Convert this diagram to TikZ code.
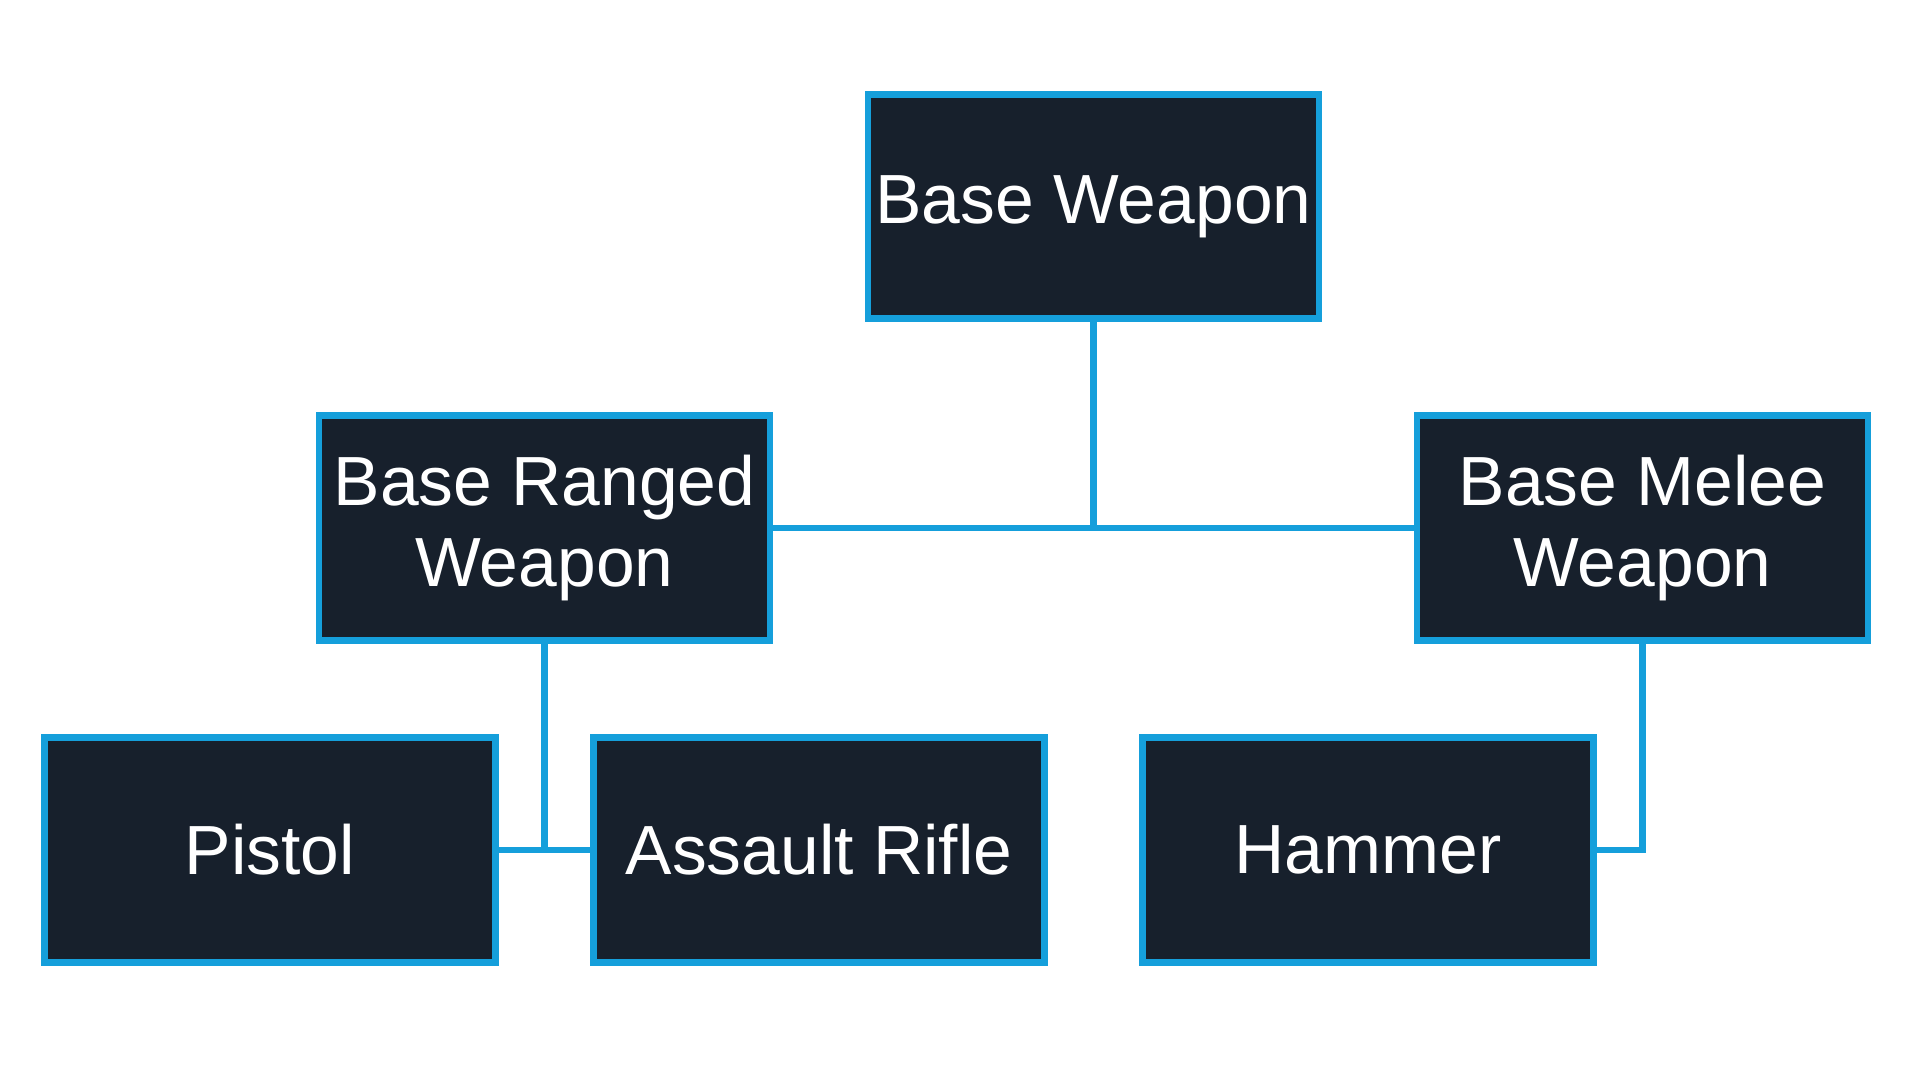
\documentclass[tikz,border=0pt]{standalone}
\usepackage{fontspec}
\setmainfont{Liberation Sans}
\definecolor{boxfill}{HTML}{17202C}
\definecolor{boxline}{HTML}{159FDB}
\begin{document}
\begin{tikzpicture}[
  cls/.style={draw=boxline, fill=boxfill, line width=0.068cm, minimum width=4.51cm, minimum height=2.245cm, inner sep=0pt, text=white, align=center, font=\fontsize{19.8}{22.8}\selectfont},
  link/.style={draw=boxline, line width=0.068cm}
]
\useasboundingbox[fill=white] (0,0) rectangle (19.2,-10.8);
\node[cls] (base) at (10.935,-2.065) {Base Weapon};
\node[cls] (ranged) at (5.445,-5.28) {Base Ranged\\Weapon};
\node[cls] (melee) at (16.425,-5.28) {Base Melee\\Weapon};
\node[cls] (pistol) at (2.70,-8.50) {Pistol};
\node[cls] (assault) at (8.19,-8.50) {Assault Rifle};
\node[cls] (hammer) at (13.68,-8.50) {Hammer};
\draw[link] (ranged.east) -- (melee.west);
\draw[link] (base.south) -- (base.south |- ranged.east);
\draw[link] (pistol.east) -- (assault.west);
\draw[link] (ranged.south) -- (ranged.south |- pistol.east);
\draw[link] (melee.south) |- (hammer.east);
\end{tikzpicture}
\end{document}
